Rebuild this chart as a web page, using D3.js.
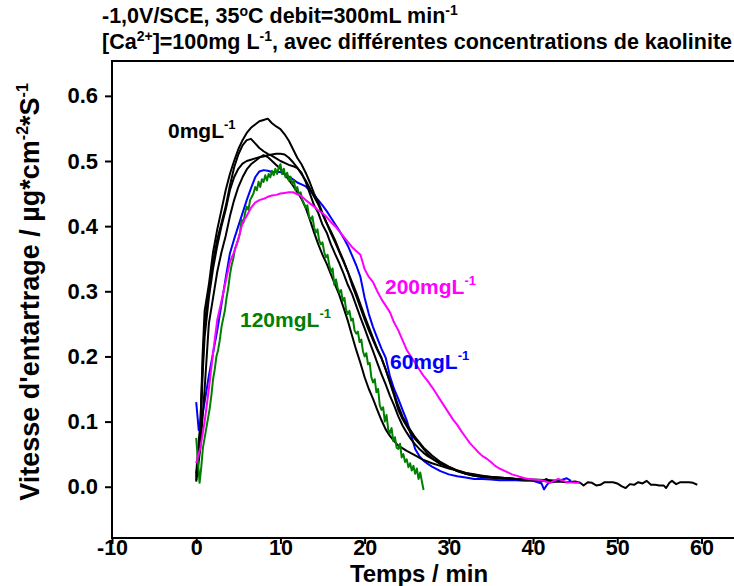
<!DOCTYPE html>
<html>
<head>
<meta charset="utf-8">
<script src="https://cdn.jsdelivr.net/npm/d3@7"></script>
<style>
  body { margin: 0; background: #fff; }
  svg { display: block; }
  text { font-family: "Liberation Sans", Arial, sans-serif; font-weight: bold; fill: #000; }
</style>
</head>
<body>
<svg id="chart" width="734" height="586"></svg>
<script>
// Scaling rate (µg·cm⁻²·s⁻¹) against time (min), one array of [t, v] per run.
const run0a = [[0,.01],[0.5,.09],[0.75,.2],[1,.27],[1.5,.31],[2,.36],[2.5,.395],[3,.425],[3.5,.455],[4,.48],[4.5,.5],[5,.518],[5.5,.532],[6,.543],[6.5,.551],[7,.556],[7.5,.561],[8,.563],[8.5,.565],[9,.558],[9.5,.553],[10,.549],[10.5,.541],[11,.531],[11.5,.518],[12,.505],[12.5,.495],[13,.482],[13.5,.467],[14,.45],[14.5,.437],[15,.42],[15.5,.405],[16,.392],[16.5,.378],[17,.362],[17.5,.347],[18,.33],[18.5,.31],[19,.293],[19.5,.275],[20,.257],[20.5,.24],[21,.225],[21.5,.21],[22,.197],[22.5,.18],[23,.16],[23.5,.14],[24,.118],[24.5,.104],[25,.093],[25.5,.082],[26,.073],[26.5,.066],[27,.058],[27.5,.05],[28,.044],[29,.035],[30,.03],[31,.024],[32,.02],[33,.017],[34,.015],[35,.014],[36,.013],[38,.012],[40,.01],[41,.008],[41.6,.012],[42,.007],[43,.008],[44,.007],[45,.008],[45.6,.006],[46,.002],[46.5,.007],[47,.006],[47.5,.002],[48,.003],[48.5,.007],[49,.007],[49.5,.007],[50,.005],[50.5,.001],[51,-.002],[51.5,.004],[52,.003],[52.5,.007],[53,.005],[53.5,.009],[54,.003],[54.5,.003],[55,.002],[55.5,.002],[55.8,-.002],[56.2,.006],[56.5,.009],[57,.004],[57.5,.007],[58,.007],[58.5,.007],[59,.006],[59.5,.003]];

const run0b = [[0,.02],[0.5,.1],[0.75,.18],[1,.25],[1.5,.3],[2,.345],[2.5,.38],[3,.405],[3.5,.43],[4,.462],[4.5,.49],[5,.51],[5.5,.524],[6,.532],[6.5,.534],[7,.527],[7.5,.52],[8,.515],[8.5,.511],[9,.508],[9.5,.504],[10,.5],[10.5,.497],[11,.494],[11.5,.492],[12,.489],[12.5,.482],[13,.468],[13.5,.45],[14,.432],[14.5,.42],[15,.402],[15.5,.39],[16,.372],[16.5,.357],[17,.343],[17.5,.327],[18,.31],[18.5,.296],[19,.278],[19.5,.26],[20,.243],[20.5,.225],[21,.208],[21.5,.19],[22,.173],[22.5,.157],[23,.14],[23.5,.125],[24,.108],[24.5,.094],[25,.083],[25.5,.073],[26,.065],[26.5,.058],[27,.052],[27.5,.047],[28,.043],[29,.035],[30,.03],[31,.024],[32,.02],[33,.017],[34,.015],[36,.013],[38,.012],[40,.01],[42,.009]];

const run0c = [[0,.008],[0.5,.06],[1,.15],[1.5,.25],[2,.29],[2.5,.33],[3,.36],[3.5,.385],[4,.415],[4.5,.44],[5,.46],[5.5,.475],[6,.487],[6.5,.495],[7,.5],[7.5,.505],[8,.509],[8.5,.506],[9,.5],[9.5,.494],[10,.488],[10.5,.48],[11,.471],[11.5,.462],[12,.452],[12.5,.442],[13,.428],[13.5,.41],[14,.39],[14.5,.372],[15,.356],[15.5,.342],[16,.326],[16.5,.31],[17,.294],[17.5,.275],[18,.255],[18.5,.232],[19,.21],[19.5,.19],[20,.168],[20.5,.15],[21,.135],[21.5,.118],[22,.102],[22.5,.088],[23,.078],[23.5,.07],[24,.063],[25,.055],[26,.048],[27,.041],[28,.036],[29,.032],[30,.028],[31,.025],[32,.021],[33,.019],[34,.017],[35,.015],[36,.014],[38,.012],[40,.01],[42,.009]];

const run0d = [[0,.015],[0.5,.085],[0.75,.17],[1,.23],[1.5,.29],[2,.335],[2.5,.37],[3,.4],[3.5,.425],[4,.455],[4.5,.475],[5,.488],[5.5,.496],[6,.5],[6.5,.502],[7,.504],[7.5,.506],[8,.507],[8.5,.509],[9,.51],[9.5,.511],[10,.511],[10.5,.51],[11,.505],[11.5,.498],[12,.49],[12.5,.48],[13,.47],[13.5,.458],[14,.445],[14.5,.433],[15,.418],[15.5,.404],[16,.389],[16.5,.375],[17,.36],[17.5,.345],[18,.33],[18.5,.314],[19,.298],[19.5,.28],[20,.262],[20.5,.245],[21,.228],[21.5,.212],[22,.198],[22.5,.18],[23,.162],[23.5,.143],[24,.124],[24.5,.108],[25,.096],[25.5,.086],[26,.076],[26.5,.068],[27,.06],[27.5,.054],[28,.048],[29,.038],[30,.031],[31,.025],[32,.021],[33,.018],[34,.016],[36,.014],[38,.012],[40,.011],[42,.01],[43,.009]];

const run60 = [[0,.13],[0.3,.087],[0.6,.1],[1,.13],[1.5,.17],[2,.205],[2.5,.24],[3,.28],[3.5,.32],[4,.358],[4.5,.38],[5,.4],[5.5,.42],[6,.44],[6.5,.458],[7,.475],[7.5,.484],[8,.486],[8.5,.485],[9,.483],[9.5,.483],[10,.483],[10.5,.48],[11,.476],[11.5,.472],[12,.467],[12.5,.464],[13,.461],[13.5,.455],[14,.447],[14.5,.44],[15,.432],[15.5,.423],[16,.413],[16.5,.403],[17,.393],[17.5,.382],[18,.37],[18.5,.355],[19,.34],[19.5,.322],[20,.29],[20.5,.265],[21,.245],[21.5,.228],[22,.212],[22.5,.198],[23,.17],[23.5,.15],[24,.135],[24.5,.118],[25,.102],[25.5,.08],[26,.058],[26.5,.047],[27,.04],[27.5,.035],[28,.031],[29,.024],[30,.019],[31,.016],[32,.014],[33,.012],[34,.012],[35,.011],[36,.01],[37,.01],[38,.01],[39,.009],[40,.009],[41,.005],[41.3,-.004],[41.6,.002],[42,.008],[43,.009],[44,.013],[44.5,.009]];

const run120 = [[0,.075],[0.2,.04],[0.4,.006],[0.6,.03],[0.8,.06],[1,.075],[1.2,.09],[1.4,.105],[1.6,.12],[1.8,.14],[2,.165],[2.2,.18],[2.4,.2],[2.6,.21],[2.8,.225],[3,.245],[3.2,.258],[3.4,.27],[3.6,.29],[3.8,.305],[4,.325],[4.2,.34],[4.4,.35],[4.6,.365],[4.8,.372],[5,.38],[5.2,.39],[5.4,.41],[5.6,.405],[5.8,.42],[6,.43],[6.2,.425],[6.4,.44],[6.6,.445],[6.8,.45],[7,.46],[7.2,.455],[7.4,.468],[7.6,.46],[7.8,.472],[8,.468],[8.2,.478],[8.4,.47],[8.6,.48],[8.8,.475],[9,.485],[9.2,.478],[9.4,.488],[9.6,.48],[9.8,.49],[10,.495],[10.2,.48],[10.4,.488],[10.6,.475],[10.8,.482],[11,.47],[11.2,.476],[11.4,.465],[11.6,.47],[11.8,.455],[12,.46],[12.2,.448],[12.4,.452],[12.6,.44],[12.8,.435],[13,.428],[13.2,.432],[13.4,.415],[13.6,.41],[13.8,.415],[14,.398],[14.2,.39],[14.4,.395],[14.6,.378],[14.8,.372],[15,.375],[15.2,.36],[15.4,.352],[15.6,.356],[15.8,.34],[16,.33],[16.2,.335],[16.4,.31],[16.6,.318],[16.8,.305],[17,.298],[17.2,.302],[17.4,.285],[17.6,.29],[17.8,.272],[18,.265],[18.2,.27],[18.4,.255],[18.6,.258],[18.8,.24],[19,.235],[19.2,.238],[19.4,.222],[19.6,.226],[19.8,.208],[20,.2],[20.2,.205],[20.4,.188],[20.6,.19],[20.8,.168],[21,.16],[21.2,.165],[21.4,.145],[21.6,.15],[21.8,.125],[22,.118],[22.2,.122],[22.4,.1],[22.6,.11],[22.8,.088],[23,.082],[23.2,.09],[23.4,.07],[23.6,.076],[23.8,.06],[24,.058],[24.2,.066],[24.4,.045],[24.6,.05],[24.8,.038],[25,.042],[25.2,.03],[25.4,.036],[25.6,.025],[25.8,.032],[26,.02],[26.2,.028],[26.4,.012],[26.6,.022],[26.8,.008],[27,-.005]];

const run200 = [[0,.036],[0.5,.06],[1,.1],[1.5,.15],[2,.205],[2.5,.256],[3,.285],[3.5,.315],[4,.345],[4.5,.36],[5,.38],[5.5,.405],[6,.416],[6.5,.428],[7,.436],[7.5,.44],[8,.442],[8.5,.445],[9,.447],[9.5,.448],[10,.45],[10.5,.451],[11,.452],[11.5,.452],[12,.449],[12.5,.446],[13,.44],[13.5,.435],[14,.43],[14.5,.424],[15,.42],[15.5,.414],[16,.406],[16.5,.4],[17,.392],[17.5,.384],[18,.376],[18.5,.368],[19,.362],[19.5,.356],[20,.334],[20.5,.322],[21,.314],[21.5,.3],[22,.288],[22.5,.278],[23,.268],[23.5,.252],[24,.24],[24.5,.225],[25,.21],[25.5,.2],[26,.19],[26.5,.18],[27,.17],[27.5,.162],[28,.153],[28.5,.143],[29,.133],[29.5,.123],[30,.113],[30.5,.103],[31,.095],[31.5,.085],[32,.076],[32.5,.067],[33,.06],[33.5,.053],[34,.047],[34.5,.043],[35,.038],[35.5,.032],[36,.028],[36.5,.025],[37,.022],[37.5,.019],[38,.017],[38.5,.015],[39,.013],[39.5,.012],[40,.011],[41,.01],[42,.006],[43,.012],[44,.007],[45,.006],[45.5,.006]];

const xTicks = [-10, 0, 10, 20, 30, 40, 50, 60];
const yTicks = [0.0, 0.1, 0.2, 0.3, 0.4, 0.5, 0.6];

const svg = d3.select("#chart");
const plot = { left: 112, top: 61, right: 736, bottom: 538 };

const x = d3.scaleLinear().domain([-10, 64.1]).range([plot.left, plot.right]);
const y = d3.scaleLinear().domain([-0.0787, 0.6535]).range([plot.bottom, plot.top]);

svg.append("defs").append("clipPath").attr("id", "plotClip")
  .append("rect")
  .attr("x", plot.left).attr("y", plot.top)
  .attr("width", plot.right - plot.left).attr("height", plot.bottom - plot.top);

// frame
svg.append("rect")
  .attr("x", plot.left).attr("y", plot.top)
  .attr("width", plot.right - plot.left).attr("height", plot.bottom - plot.top)
  .attr("fill", "none").attr("stroke", "#000").attr("stroke-width", 2);

// axes
const yAxis = d3.axisLeft(y).tickValues(yTicks).tickSize(7).tickPadding(7)
  .tickFormat(d3.format(".1f"));
const xAxis = d3.axisBottom(x).tickValues(xTicks).tickSize(6).tickPadding(-4)
  .tickFormat(d => String(d));

const gy = svg.append("g").attr("transform", `translate(${plot.left},0)`).call(yAxis);
const gx = svg.append("g").attr("transform", `translate(0,${plot.bottom})`).call(xAxis);
[gx, gy].forEach(g => {
  g.select(".domain").remove();
  g.selectAll(".tick line").attr("stroke", "#000").attr("stroke-width", 2);
  g.selectAll(".tick text").attr("font-size", g === gx ? 21.5 : 22)
    .attr("font-family", "Liberation Sans, Arial, sans-serif")
    .attr("font-weight", "bold").attr("fill", "#000");
});

// curves
const line = d3.line().x(d => x(d[0])).y(d => y(d[1]));
const curves = [
  { data: run60, color: "#0000ff" },
  { data: run0d, color: "#000000" },
  { data: run0c, color: "#000000" },
  { data: run0b, color: "#000000" },
  { data: run0a, color: "#000000" },
  { data: run120, color: "#008000" },
  { data: run200, color: "#ff00ff" }
];
svg.append("g").attr("clip-path", "url(#plotClip)")
  .selectAll("path").data(curves).join("path")
  .attr("d", d => line(d.data))
  .attr("fill", "none")
  .attr("stroke", d => d.color)
  .attr("stroke-width", 2)
  .attr("stroke-linejoin", "round");

// curve labels
function label(txt, px, py, color) {
  const t = svg.append("text").attr("x", px).attr("y", py).attr("font-size", 21).style("fill", color);
  t.append("tspan").text(txt);
  t.append("tspan").attr("font-size", 13).attr("dy", -9).text("-1");
}
label("0mgL", 168, 138, "#000000");
label("120mgL", 240, 327, "#008000");
label("200mgL", 385, 294, "#ff00ff");
label("60mgL", 390, 369, "#0000ff");

// title
const t1 = svg.append("text").attr("x", 102).attr("y", 23).attr("font-size", 21.5);
t1.append("tspan").text("-1,0V/SCE, 35");
t1.append("tspan").attr("font-size", 14).attr("dy", -7).text("o");
t1.append("tspan").attr("dy", 7).text("C debit=300mL min");
t1.append("tspan").attr("font-size", 14).attr("dy", -8).text("-1");

const t2 = svg.append("text").attr("x", 102).attr("y", 49).attr("font-size", 21.5);
t2.append("tspan").text("[Ca");
t2.append("tspan").attr("font-size", 14).attr("dy", -8).text("2+");
t2.append("tspan").attr("dy", 8).text("]=100mg L");
t2.append("tspan").attr("font-size", 14).attr("dy", -8).text("-1");
t2.append("tspan").attr("dy", 8).text(", avec différentes concentrations de kaolinite");

// axis titles
svg.append("text").attr("x", 419).attr("y", 582).attr("text-anchor", "middle")
  .attr("font-size", 24).text("Temps / min");

const yt = svg.append("text").attr("transform", "translate(39,292) rotate(-90)")
  .attr("text-anchor", "middle").attr("font-size", 27);
yt.append("tspan").text("Vitesse d'entartrage / µg*cm");
yt.append("tspan").attr("font-size", 16).attr("dy", -11).text("-2");
yt.append("tspan").attr("dy", 11).text("*S");
yt.append("tspan").attr("font-size", 16).attr("dy", -11).text("-1");
</script>
</body>
</html>
